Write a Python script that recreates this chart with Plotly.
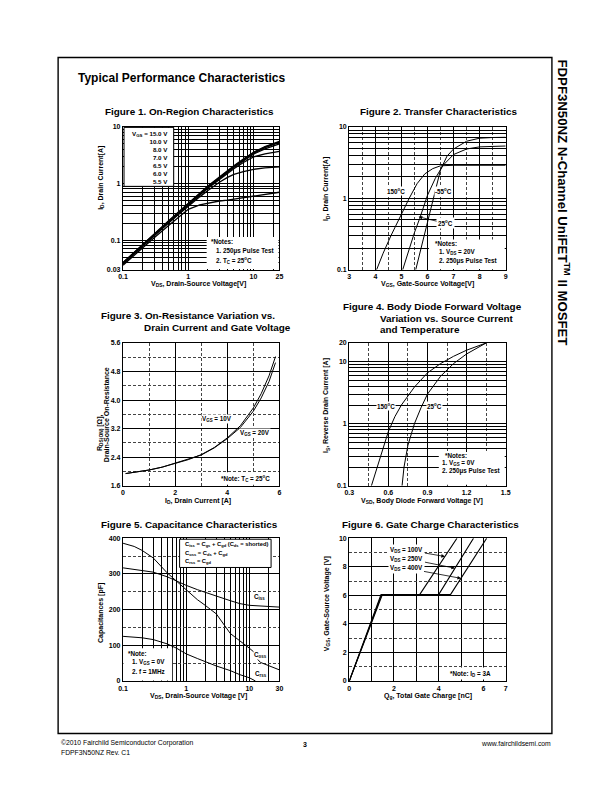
import plotly.graph_objects as go

W, H = 612, 792
FONT = "Arial, Liberation Sans, Helvetica, sans-serif"


def px(x):
    return x / W


def py(y):
    return 1 - y / H


# Figure 1: On-region characteristics (ID vs VDS for several VGS)
f1_vds = [0.1, 0.15, 0.2, 0.3, 0.5, 0.7, 1, 1.5, 2, 3, 4, 5, 7, 10, 15, 20, 25]
f1_id_150 = [0.040, 0.062, 0.085, 0.13, 0.22, 0.31, 0.45, 0.67, 0.90, 1.30, 1.70, 2.05, 2.70, 3.55, 4.50, 5.10, 5.55]
f1_id_100 = [0.040, 0.061, 0.084, 0.128, 0.218, 0.305, 0.44, 0.66, 0.88, 1.28, 1.67, 2.00, 2.65, 3.50, 4.40, 5.00, 5.45]
f1_id_80 = [0.039, 0.060, 0.083, 0.126, 0.215, 0.30, 0.435, 0.65, 0.87, 1.26, 1.64, 1.97, 2.60, 3.42, 4.30, 4.85, 5.30]
f1_id_70 = [0.039, 0.060, 0.082, 0.125, 0.21, 0.295, 0.43, 0.64, 0.85, 1.23, 1.60, 1.92, 2.50, 3.30, 4.10, 4.60, 5.00]
f1_id_65 = [0.038, 0.059, 0.081, 0.123, 0.205, 0.29, 0.42, 0.62, 0.82, 1.18, 1.52, 1.82, 2.35, 2.95, 3.35, 3.55, 3.70]
f1_id_60 = [0.038, 0.058, 0.080, 0.12, 0.20, 0.28, 0.40, 0.58, 0.75, 1.05, 1.28, 1.45, 1.62, 1.78, 1.88, 1.93, 1.97]
f1_id_55 = [0.036, 0.055, 0.075, 0.11, 0.18, 0.25, 0.35, 0.42, 0.45, 0.49, 0.51, 0.53, 0.57, 0.61, 0.65, 0.68, 0.70]

# Figure 2: transfer characteristics
f2_vgs_150 = [4.05, 4.3, 4.6, 5.0, 5.3, 5.6, 5.9, 6.2, 6.5, 7.0, 8.0, 9.0]
f2_id_150 = [0.1, 0.17, 0.3, 0.6, 1.0, 1.6, 2.2, 2.6, 2.85, 2.9, 2.9, 2.9]
f2_vgs_25 = [5.05, 5.3, 5.5, 5.7, 6.0, 6.3, 6.6, 7.0, 7.5, 8.0, 9.0]
f2_id_25 = [0.1, 0.2, 0.33, 0.52, 1.1, 1.9, 2.9, 4.1, 4.9, 5.25, 5.4]
f2_vgs_m55 = [5.55, 5.75, 6.0, 6.25, 6.5, 6.75, 7.0, 7.5, 8.0, 8.5, 9.0]
f2_id_m55 = [0.1, 0.2, 0.45, 1.1, 2.5, 3.9, 4.9, 6.3, 6.95, 7.1, 7.15]

# Figure 3: on-resistance vs drain current
f3_id = [0.1, 0.5, 1, 1.5, 2, 2.5, 3, 3.5, 4, 4.5, 5, 5.3, 5.6, 5.85]
f3_r_10 = [1.94, 1.98, 2.04, 2.12, 2.23, 2.33, 2.47, 2.67, 2.94, 3.28, 3.78, 4.18, 4.68, 5.22]
f3_r_20 = [1.94, 1.98, 2.04, 2.12, 2.23, 2.33, 2.46, 2.66, 2.92, 3.23, 3.69, 4.06, 4.52, 5.05]

# Figure 4: body diode forward voltage
f4_vsd_150 = [0.47, 0.5, 0.55, 0.6, 0.65, 0.7, 0.8, 0.9, 1.0, 1.1, 1.2, 1.35]
f4_is_150 = [0.1, 0.16, 0.35, 0.75, 1.3, 2.0, 3.9, 6.6, 9.3, 12.2, 15.3, 20]
f4_vsd_25 = [0.705, 0.72, 0.75, 0.8, 0.85, 0.9, 1.0, 1.1, 1.2, 1.35]
f4_is_25 = [0.1, 0.2, 0.45, 1.0, 1.8, 3.0, 5.8, 9.3, 13.3, 20]

# Figure 5: capacitance characteristics
f5_vds = [0.1, 0.15, 0.2, 0.3, 0.5, 0.7, 1, 1.5, 2, 3, 5, 7, 10, 12, 13, 15, 20, 30]
f5_ciss = [317, 313, 310, 305, 292, 280, 268, 256, 248, 238, 225, 217, 212, 211, 211, 210, 209, 207]
f5_coss = [386, 377, 366, 345, 303, 280, 254, 228, 212, 188, 133, 114, 92, 80, 64, 52, 43, 31]
f5_vds_rss = [0.1, 0.15, 0.2, 0.3, 0.5, 0.7, 1, 1.5, 2, 3, 5, 7, 10, 12.5]
f5_crss = [125, 123, 121, 116, 104, 92, 76, 63, 54, 42, 29, 18, 9, 0]

# Figure 6: gate charge characteristics
f6_qg_100 = [0, 1.42, 3.15, 4.82]
f6_vgs_100 = [0, 6.05, 6.05, 10]
f6_qg_250 = [0, 1.45, 4.0, 5.56]
f6_vgs_250 = [0, 6.05, 6.05, 10]
f6_qg_400 = [0, 1.48, 4.53, 6.15]
f6_vgs_400 = [0, 6.05, 6.05, 10]

# ---------------- panel geometry (pixels on the page) ----------------
LX = (120, 279)
RX = (350, 509)
ROW1 = (124, 268)
ROW2 = (342, 486)
ROW3 = (539, 683)


def dom_x(r):
    return [px(r[0]), px(r[1])]


def dom_y(r):
    return [py(r[1]), py(r[0])]


def log_minor(decades):
    vals = []
    for d in decades:
        vals += [k * d for k in range(2, 10)]
    return vals


def axis(domain, anchor, tickvals, ticktext, minor_vals, rng, typ="linear",
         minor_dash="solid", minor_w=0.5):
    return dict(
        domain=domain, anchor=anchor, type=typ, range=rng,
        tickmode="array", tickvals=tickvals, ticktext=ticktext,
        showline=True, mirror=True, linecolor="black", linewidth=1.4,
        showgrid=True, gridcolor="black", gridwidth=1.1, zeroline=False,
        ticks="", ticklen=0,
        tickfont=dict(family=FONT, size=7, color="black", weight="bold"),
        minor=dict(tickvals=minor_vals, showgrid=True,
                   gridcolor="black" if minor_dash == "solid" else "#444444",
                   gridwidth=minor_w, griddash=minor_dash, ticks=""),
        fixedrange=True,
    )


DASH = "3px,2px"

fig = go.Figure()


def line(x, y, xa, ya, w=1.0):
    fig.add_trace(go.Scatter(x=x, y=y, xaxis=xa, yaxis=ya, mode="lines",
                             line=dict(color="black", width=w),
                             showlegend=False, hoverinfo="skip"))


# Figure 1 curves
for ys in [f1_id_55, f1_id_60, f1_id_65, f1_id_70, f1_id_80, f1_id_100, f1_id_150]:
    line(f1_vds, ys, "x", "y", 1.3)
# Figure 2
line(f2_vgs_150, f2_id_150, "x2", "y2")
line(f2_vgs_25, f2_id_25, "x2", "y2")
line(f2_vgs_m55, f2_id_m55, "x2", "y2")
# Figure 3
line(f3_id, f3_r_10, "x3", "y3")
line(f3_id, f3_r_20, "x3", "y3")
# Figure 4
line(f4_vsd_150, f4_is_150, "x4", "y4")
line(f4_vsd_25, f4_is_25, "x4", "y4")
# Figure 5
line(f5_vds, f5_ciss, "x5", "y5")
line(f5_vds, f5_coss, "x5", "y5")
line(f5_vds_rss, f5_crss, "x5", "y5")
# Figure 6
line(f6_qg_100, f6_vgs_100, "x6", "y6", 1.1)
line(f6_qg_250, f6_vgs_250, "x6", "y6", 1.1)
line(f6_qg_400, f6_vgs_400, "x6", "y6", 1.1)

fig.update_layout(
    xaxis=axis(dom_x(LX), "y", [0.1, 1, 10, 25], ["0.1", "1", "10", "25"],
               log_minor([0.1, 1]) + [20], [-1, 1.39794], "log"),
    yaxis=axis(dom_y(ROW1), "x", [0.03, 0.1, 1, 10], ["0.03", "0.1", "1", "10"],
               [0.04, 0.05, 0.06, 0.07, 0.08, 0.09] + log_minor([0.1, 1]),
               [-1.52288, 1], "log"),
    xaxis2=axis(dom_x(RX), "y2", [3, 4, 5, 6, 7, 8, 9], None,
                [3.5, 4.5, 5.5, 6.5, 7.5, 8.5], [3, 9], minor_dash=DASH),
    yaxis2=axis(dom_y(ROW1), "x2", [0.1, 1, 10], ["0.1", "1", "10"],
                log_minor([0.1, 1]), [-1, 1], "log"),
    xaxis3=axis(dom_x(LX), "y3", [0, 2, 4, 6], None, [1, 3, 5], [0, 6],
                minor_dash=DASH),
    yaxis3=axis(dom_y(ROW2), "x3", [1.6, 2.4, 3.2, 4.0, 4.8, 5.6],
                ["1.6", "2.4", "3.2", "4.0", "4.8", "5.6"],
                [2.0, 2.8, 3.6, 4.4, 5.2], [1.6, 5.6], minor_dash=DASH),
    xaxis4=axis(dom_x(RX), "y4", [0.3, 0.6, 0.9, 1.2, 1.5],
                ["0.3", "0.6", "0.9", "1.2", "1.5"],
                [0.45, 0.75, 1.05, 1.35], [0.3, 1.5], minor_dash=DASH),
    yaxis4=axis(dom_y(ROW2), "x4", [0.1, 1, 10, 20], ["0.1", "1", "10", "20"],
                log_minor([0.1, 1]), [-1, 1.30103], "log"),
    xaxis5=axis(dom_x(LX), "y5", [0.1, 1, 10, 30], ["0.1", "1", "10", "30"],
                log_minor([0.1, 1]) + [20], [-1, 1.47712], "log"),
    yaxis5=axis(dom_y(ROW3), "x5", [0, 100, 200, 300, 400], None,
                [50, 150, 250, 350], [0, 400], minor_dash=DASH),
    xaxis6=axis(dom_x(RX), "y6", [0, 2, 4, 6, 7], None, [1, 3, 5], [0, 7]),
    yaxis6=axis(dom_y(ROW3), "x6", [0, 2, 4, 6, 8, 10], None,
                [1, 3, 5, 7, 9], [0, 10], minor_dash=DASH),
)

# ---------------- boxes and page frame ----------------
shapes = [dict(type="rect", xref="paper", yref="paper", x0=px(54), x1=px(556),
               y0=py(736), y1=py(54), line=dict(color="black", width=1.4),
               layer="below")]


def box(x0, y0, x1, y1, border=False):
    shapes.append(dict(type="rect", xref="paper", yref="paper",
                       x0=px(x0), x1=px(x1), y0=py(y1), y1=py(y0),
                       fillcolor="white", layer="above",
                       line=dict(color="black", width=1 if border else 0)))


box(121, 124.5, 171.5, 184, border=True)   # fig 1 legend
box(205, 235, 278, 267.3)                  # fig 1 notes
box(431, 237.5, 508, 267.3)                # fig 2 notes
box(216, 472.5, 277, 485)                  # fig 3 note
box(441, 452, 508, 485)                    # fig 4 notes
box(177.5, 540, 270.5, 568.5, border=True) # fig 5 legend
box(120.5, 650, 170, 682.5)                # fig 5 notes
box(448, 669.5, 497, 681.5)                # fig 6 note

ann = []


def txt(x, y, s, size=6.3, anchor="left", bold=True, angle=0, bg=None,
        family=FONT, valign="middle"):
    a = dict(xref="paper", yref="paper", x=px(x), y=py(y), text=s,
             showarrow=False, xanchor=anchor, yanchor=valign, textangle=angle,
             font=dict(family=family, size=size, color="black",
                       weight="bold" if bold else "normal"))
    if bg:
        a["bgcolor"] = bg
        a["borderpad"] = 0
    ann.append(a)


DEG = "<sup>o</sup>C"

# page title and side title
txt(72, 74.5, "Typical Performance Characteristics", size=12)
txt(568, 200, "FDPF3N50NZ N-Channel UniFET<sup>TM</sup> II MOSFET", size=13.2,
    anchor="center", angle=90)

# figure titles
txt(100, 108.5, "Figure 1. On-Region Characteristics", size=9.9)
txt(359, 108.5, "Figure 2. Transfer Characteristics", size=9.9)
txt(96, 314, "Figure 3. On-Resistance Variation vs.", size=9.9)
txt(139, 326.5, "Drain Current and Gate Voltage", size=9.9)
txt(342, 305.5, "Figure 4. Body Diode Forward Voltage", size=9.9)
txt(379, 317, "Variation vs. Source Current", size=9.9)
txt(379, 328.5, "and Temperature", size=9.9)
txt(96, 525.5, "Figure 5. Capacitance Characteristics", size=9.9)
txt(341, 525.5, "Figure 6. Gate Charge Characteristics", size=9.9)

# axis titles
txt(197, 282, "V<sub>DS</sub>, Drain-Source Voltage[V]", size=7, anchor="center")
txt(430, 282, "V<sub>GS</sub>, Gate-Source Voltage[V]", size=7, anchor="center")
txt(196, 501, "I<sub>D</sub>, Drain Current [A]", size=7, anchor="center")
txt(424, 501, "V<sub>SD</sub>, Body Diode Forward Voltage [V]", size=7, anchor="center")
txt(197, 698, "V<sub>DS</sub>, Drain-Source Voltage [V]", size=7, anchor="center")
txt(430, 698, "Q<sub>g</sub>, Total Gate Charge [nC]", size=7, anchor="center")
txt(98, 175, "I<sub>D</sub>, Drain Current[A]", size=7, anchor="center", angle=-90)
txt(327, 187, "I<sub>D</sub>, Drain Current[A]", size=7, anchor="center", angle=-90)
txt(96.5, 432, "R<sub>DS(ON)</sub> [\u03a9],", size=7, anchor="center", angle=-90)
txt(103.5, 414, "Drain-Source On-Resistance", size=7, anchor="center", angle=-90)
txt(327, 405, "I<sub>S</sub>, Reverse Drain Current [A]", size=7, anchor="center", angle=-90)
txt(97, 614, "Capacitances [pF]", size=7, anchor="center", angle=-90)
txt(327, 605, "V<sub>GS</sub>, Gate-Source Voltage [V]", size=7, anchor="center", angle=-90)

# figure 1 legend and notes
ann.append(dict(xref="paper", yref="paper", x=px(167.5), y=py(125), xanchor="right",
                yanchor="top", align="right", showarrow=False,
                text="V<sub>GS</sub> = 15.0 V<br>10.0 V<br>8.0 V<br>7.0 V<br>6.5 V<br>6.0 V<br>5.5 V",
                font=dict(family=FONT, size=6.2, color="black", weight="bold")))
txt(207, 240, "*Notes:")
txt(212, 249.5, "1. 250\u03bcs Pulse Test")
txt(212, 259, "2. T<sub>C</sub> = 25" + DEG)

# figure 2 labels and notes
txt(397, 188.5, "150" + DEG, anchor="center", bg="white")
txt(446, 188.5, "-55" + DEG, anchor="center", bg="white")
ann.append(dict(xref="x2", yref="y2", x=5.66, y=-0.26, ax=27, ay=6.5,
                text="25" + DEG, showarrow=True, arrowhead=2, arrowsize=0.9,
                arrowwidth=0.8, arrowcolor="black", bgcolor="white",
                font=dict(family=FONT, size=6.3, color="black", weight="bold")))
txt(435, 241.5, "*Notes:")
txt(439.5, 250.5, "1. V<sub>DS</sub> = 20V")
txt(439.5, 259.5, "2. 250\u03bcs Pulse Test")

# figure 3 labels and note
txt(216, 419, "V<sub>GS</sub> = 10V", anchor="center", bg="white")
txt(254, 433, "V<sub>GS</sub> = 20V", anchor="center", bg="white")
txt(218, 478.5, "*Note: T<sub>C</sub> = 25" + DEG)

# figure 4 labels and notes
txt(387, 406, "150" + DEG, anchor="center", bg="white")
txt(437, 406, "25" + DEG, anchor="center", bg="white")
txt(445, 456, "*Notes:")
txt(442, 463.5, "1. V<sub>GS</sub> = 0V")
txt(442, 471, "2. 250\u03bcs Pulse Test")

# figure 5 legend, labels, notes
txt(180.5, 545, "C<sub>iss</sub> = C<sub>gs</sub> + C<sub>gd</sub> (C<sub>ds</sub> = shorted)", size=5.8)
txt(180.5, 554, "C<sub>oss</sub> = C<sub>ds</sub> + C<sub>gd</sub>", size=5.8)
txt(180.5, 562.5, "C<sub>rss</sub> = C<sub>gd</sub>", size=5.8)
txt(258.5, 598.5, "C<sub>iss</sub>", anchor="center", bg="white")
txt(260, 657, "C<sub>oss</sub>", anchor="center", bg="white")
txt(260, 676, "C<sub>rss</sub>", anchor="center", bg="white")
txt(123.5, 655, "*Note:")
txt(127, 664, "1. V<sub>GS</sub> = 0V")
txt(127, 673.5, "2. f = 1MHz")

# figure 6 labels with arrows and note
for lab, qx, vy, dx, dy in [("100V", 4.28, 8.72, -38, -6.6),
                            ("250V", 4.73, 7.90, -48, -9.7),
                            ("400V", 5.00, 7.19, -55, -10.3)]:
    ann.append(dict(xref="x6", yref="y6", x=qx, y=vy, ax=dx, ay=dy,
                    text="V<sub>DS</sub> = " + lab, showarrow=True, arrowhead=2,
                    arrowsize=0.9, arrowwidth=0.8, arrowcolor="black",
                    bgcolor="white",
                    font=dict(family=FONT, size=6.3, color="black", weight="bold")))
txt(450, 675.5, "*Note: I<sub>D</sub> = 3A")

# footer
txt(55, 746, "\u00a92010 Fairchild Semiconductor Corporation", size=6.8, bold=False)
txt(55, 755.5, "FDPF3N50NZ Rev. C1", size=6.8, bold=False)
txt(305, 747, "3", size=7, anchor="center")
txt(557, 746, "www.fairchildsemi.com", size=6.8, anchor="right", bold=False)

fig.update_layout(
    width=W, height=H, autosize=False,
    margin=dict(l=0, r=0, t=0, b=0),
    paper_bgcolor="white", plot_bgcolor="white",
    showlegend=False, shapes=shapes, annotations=ann,
    font=dict(family=FONT, color="black"),
)

# the page body keeps an 8px browser margin by default; drop it so the page lines up
fig.write_html("out.html", config={"displayModeBar": False},
               post_script="document.body.style.margin='0px';")
